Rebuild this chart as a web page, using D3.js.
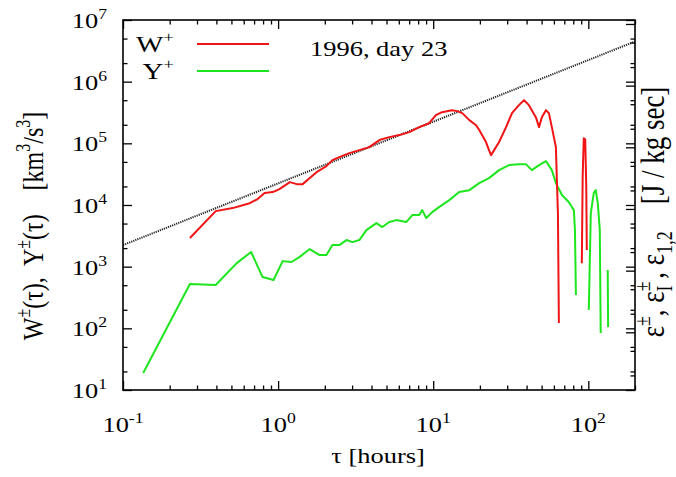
<!DOCTYPE html>
<html>
<head>
<meta charset="utf-8">
<script src="https://cdn.jsdelivr.net/npm/d3@7"></script>
<style>
  html, body { margin: 0; padding: 0; background: #fff; }
  svg text { font-family: "Liberation Serif", "Times New Roman", serif; fill: #000; white-space: pre; }
</style>
</head>
<body>
<svg id="chart" width="676" height="477"></svg>
<script>
// ---------------- data ----------------
const tauW = [0.27,0.396,0.509,0.656,0.738,0.818,0.923,1.02,1.19,1.32,1.44,1.60,1.77,2.05,2.24,2.48,2.88,3.34,3.87,4.50,5.21,6.04,7.01,8.13,9.42,10.4,11.4,13.2,14.3,15.4,17.1,18.9,19.8,21.9,22.9,23.6,24.7,26.6,29.5,32.2,35.7,38.5,41.4,45.9,48.1,50.2,53.3,55.7,58.2,61.8,62.7,63.7,64.6,77,90.8,92.0,93.5,95.5,97.0,97.8];
const valW = [2910,7960,8910,10700,12500,15600,16200,18100,23500,21800,21800,27300,34100,42700,53400,59700,69300,77600,86700,113000,126000,136000,152000,183000,212000,286000,320000,345000,333000,309000,238000,197000,164000,105000,77600,64400,77600,105000,183000,309000,416000,501000,416000,266000,183000,266000,345000,309000,183000,86700,25300,7390,122,null,1140,30000,121000,115000,20000,1860];

const tauY = [0.135,0.270,0.396,0.541,0.670,0.794,0.935,1.07,1.22,1.37,1.60,1.85,2.05,2.24,2.48,2.76,3.01,3.34,3.71,4.30,4.70,5.21,5.78,6.70,7.33,8.13,8.49,9.02,9.86,10.9,12.7,14.7,17.1,19.8,22.9,26.6,30.8,35.7,39.6,43.3,48.1,53.3,58.2,61.8,67.6,75.0,78.4,80.7,82.0,83.2,90,100.7,103.8,108.4,111.7,115.1,118.6,120.2,127,133.4,134.2];
const valY = [18.9,522,504,1140,1730,678,607,1230,1190,1430,1930,1540,1540,2240,2240,2700,2500,2700,3920,5090,4390,5290,5690,5290,6860,6860,8260,6140,7670,9250,12000,16200,17400,22600,27300,36800,44400,46000,46000,36800,44400,51500,36800,22600,14500,11100,9250,8260,3920,347,null,198,7390,15600,17400,10700,3920,84,null,881,105];

const tauFit = [0.1, 200];
const valFit = [2240, 4.48e6];

const xMajor = [0.1, 1, 10, 100];
const xMajorExp = ["-1", "0", "1", "2"];
const yMajor = [1e1, 1e2, 1e3, 1e4, 1e5, 1e6, 1e7];
const yMajorExp = ["1", "2", "3", "4", "5", "6", "7"];

const legendNames = ["W", "Y"];
const legendSup = ["+", "+"];
const seriesColors = ["#f01414", "#1ee61e"];
const annotation = "1996, day 23";

// ---------------- layout ----------------
const L = 123, R = 635, T = 20, B = 390;
const SX = 1.26; // horizontal stretch of glyphs
const svg = d3.select("#chart");

const x = d3.scaleLog().domain([0.1, 200]).range([L, R]);
const y = d3.scaleLog().domain([10, 1e7]).range([B, T]);
const y2 = d3.scaleLog().domain([11.6, 1.16e7]).range([B, T]);

svg.append("defs").append("clipPath").attr("id", "clip")
  .append("rect").attr("x", L).attr("y", T).attr("width", R - L).attr("height", B - T);

// ---------------- ticks ----------------
const xMinor = [];
[0.1, 1, 10, 100].forEach(d => { for (let k = 2; k <= 9; k++) { const v = d * k; if (v <= 200) xMinor.push(v); } });
const yMinor = [];
[10, 100, 1e3, 1e4, 1e5, 1e6].forEach(d => { [2, 5].forEach(k => yMinor.push(d * k)); });
const y2Major = [1e2, 1e3, 1e4, 1e5, 1e6, 1e7];
const y2Minor = [];
[1e1, 1e2, 1e3, 1e4, 1e5, 1e6].forEach(d => { [2, 5].forEach(k => { const v = d * k; if (v >= 11.6 && v <= 1.16e7) y2Minor.push(v); }); });

function axisG(gen, tx, ty) {
  const g = svg.append("g").attr("transform", `translate(${tx},${ty})`).call(gen);
  g.select(".domain").remove();
  g.selectAll(".tick line").attr("stroke", "#000").attr("stroke-width", 1.3);
  g.selectAll(".tick text").remove();
  return g;
}
const MAJ = 9, MIN = 4.5;
axisG(d3.axisBottom(x).tickValues(xMajor).tickSize(-MAJ).tickFormat(""), 0, B);
axisG(d3.axisBottom(x).tickValues(xMinor).tickSize(-MIN).tickFormat(""), 0, B);
axisG(d3.axisTop(x).tickValues(xMajor).tickSize(-MAJ).tickFormat(""), 0, T);
axisG(d3.axisTop(x).tickValues(xMinor).tickSize(-MIN).tickFormat(""), 0, T);
axisG(d3.axisLeft(y).tickValues(yMajor).tickSize(-MAJ).tickFormat(""), L, 0);
axisG(d3.axisLeft(y).tickValues(yMinor).tickSize(-MIN).tickFormat(""), L, 0);
axisG(d3.axisRight(y).tickValues(yMajor).tickSize(-MAJ).tickFormat(""), R, 0);
axisG(d3.axisRight(y).tickValues(yMinor).tickSize(-MIN).tickFormat(""), R, 0);
axisG(d3.axisRight(y2).tickValues(y2Major).tickSize(-MAJ).tickFormat(""), R, 0);
axisG(d3.axisRight(y2).tickValues(y2Minor).tickSize(-MIN).tickFormat(""), R, 0);

// ---------------- lines ----------------
const plot = svg.append("g").attr("clip-path", "url(#clip)");
const line = d3.line().defined(d => d[1] != null).x(d => x(d[0])).y(d => y(d[1]));

plot.append("path").datum(tauFit.map((t, i) => [t, valFit[i]]))
  .attr("d", line).attr("fill", "none").attr("stroke", "#222")
  .attr("stroke-width", 2).attr("stroke-dasharray", "1.2,1");

plot.append("path").datum(tauY.map((t, i) => [t, valY[i]]))
  .attr("d", line).attr("fill", "none").attr("stroke", seriesColors[1])
  .attr("stroke-width", 2).attr("stroke-linejoin", "round");

plot.append("path").datum(tauW.map((t, i) => [t, valW[i]]))
  .attr("d", line).attr("fill", "none").attr("stroke", seriesColors[0])
  .attr("stroke-width", 2).attr("stroke-linejoin", "round");

// frame
svg.append("rect").attr("x", L).attr("y", T).attr("width", R - L).attr("height", B - T)
  .attr("fill", "none").attr("stroke", "#000").attr("stroke-width", 1.6);

// ---------------- text ----------------
const FS = 21, SUP = 14;
// anchor: 0 = start, 0.5 = middle, 1 = end (measured, screen coords)
function stretched(px, py, anchor, build) {
  const g = svg.append("g");
  const t = g.append("text").attr("x", 0).attr("y", 0);
  build(t);
  const w = t.node().getBBox().width * SX;
  g.attr("transform", `translate(${px - anchor * w},${py}) scale(${SX},1)`);
  return g;
}
function powLabel(px, py, exp, anchor) {
  stretched(px, py, anchor, t => {
    t.attr("font-size", FS);
    t.append("tspan").text("10");
    t.append("tspan").attr("font-size", SUP).attr("dy", -9).text(exp);
  });
}
yMajor.forEach((v, i) => powLabel(L - 16, y(v) + 8, yMajorExp[i], 1));
xMajor.forEach((v, i) => powLabel(x(v), 432, xMajorExp[i], 0.5));

// x title
stretched(378, 463, 0.5, t => t.attr("font-size", FS).text("τ [hours]"));

// left title
{
  const g = svg.append("g").attr("transform", `translate(43,226) rotate(-90) scale(1,${SX})`);
  const t = g.append("text").attr("font-size", 24).attr("text-anchor", "middle");
  t.append("tspan").text("W");
  t.append("tspan").attr("font-size", 16).attr("dy", -10).text("±");
  t.append("tspan").attr("dy", 10).text("(τ),  Y");
  t.append("tspan").attr("font-size", 16).attr("dy", -10).text("±");
  t.append("tspan").attr("dy", 10).text("(τ)    [km");
  t.append("tspan").attr("font-size", 16).attr("dy", -10).text("3");
  t.append("tspan").attr("dy", 10).text("/s");
  t.append("tspan").attr("font-size", 16).attr("dy", -10).text("3");
  t.append("tspan").attr("dy", 10).text("]");
}
// right title
{
  const g = svg.append("g").attr("transform", `translate(664,212) rotate(-90) scale(1,${SX})`);
  const t = g.append("text").attr("font-size", 27).attr("text-anchor", "middle");
  t.append("tspan").text("ε");
  t.append("tspan").attr("font-size", 18).attr("dy", -11).text("±");
  t.append("tspan").attr("dy", 11).text(", ε");
  t.append("tspan").attr("font-size", 18).attr("dy", -11).text("±");
  t.append("tspan").attr("font-size", 18).attr("dx", -10).attr("dy", 17).text("I");
  t.append("tspan").attr("dy", -6).text(" , ε");
  t.append("tspan").attr("font-size", 18).attr("dy", 6).text("1,2");
  t.append("tspan").attr("dy", -6).text("    [J / kg sec]");
}
// legend
legendNames.forEach((n, i) => {
  const ly = 44 + i * 27;
  stretched(174, ly + 8, 1, t => {
    t.attr("font-size", 23);
    t.append("tspan").text(n);
    t.append("tspan").attr("font-size", 15).attr("dy", -10).text(legendSup[i]);
  });
  svg.append("line").attr("x1", 197).attr("x2", 269).attr("y1", ly).attr("y2", ly)
    .attr("stroke", seriesColors[i]).attr("stroke-width", 2);
});
stretched(310, 56, 0, t => t.attr("font-size", FS).text(annotation));
</script>
</body>
</html>
